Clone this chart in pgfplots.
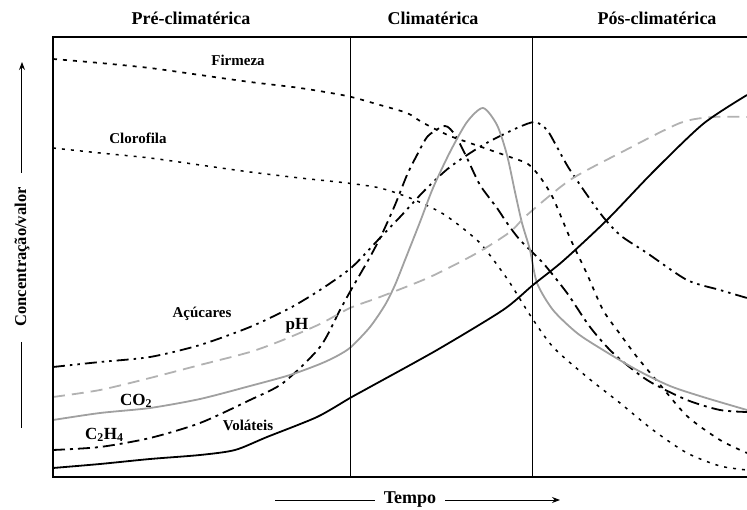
\documentclass[border=0pt]{standalone}
\usepackage{pgfplots}
\pgfplotsset{compat=1.18}
\usepackage{fontspec}
\setmainfont{Liberation Serif}
\usetikzlibrary{arrows.meta}

\definecolor{co2gray}{RGB}{160,160,160}
\definecolor{phgray}{RGB}{178,178,178}

\begin{document}
\begin{tikzpicture}
\begin{axis}[
  x=1pt, y=1pt,
  xmin=53, xmax=747, ymin=32, ymax=472,
  hide axis, clip=false,
  every axis plot/.append style={line width=1.8pt, smooth, tension=0.45, no marks},
]
% Firmeza
\addplot[black, line width=1.7pt, dash pattern=on 4pt off 6pt] coordinates {
(53,450) (100,446) (150,441) (200,434) (250,427) (300,421) (347,413) (380,404)
(407,396) (420,388) (433,381) (450,373) (467,367) (490,359) (510,352) (528,345)
(540,332) (553,311) (570,271) (587,235) (603,199) (620,175) (637,152) (657,128)
(687,93) (720,69) (747,56)
};
% Clorofila
\addplot[black, line width=1.5pt, dash pattern=on 3pt off 6pt] coordinates {
(53,361) (100,356) (150,351) (200,344) (250,337) (300,331) (347,326) (380,321)
(410,311) (440,297) (460,283) (480,266) (495,247) (510,226) (530,194) (553,162)
(587,132) (620,106) (653,79) (687,56) (720,43) (747,39)
};
% Acucares
\addplot[black, dash pattern=on 12pt off 5pt on 2.5pt off 5pt on 2.5pt off 5pt] coordinates {
(53,142) (100,147) (150,152) (200,164) (250,182) (290,201) (320,219) (351,241)
(378,269) (400,292) (425,319) (450,342) (483,364) (517,381) (535,387) (547,379)
(557,362) (570,339) (600,296) (620,274) (647,256) (687,229) (720,219) (747,211)
};
% C2H4
\addplot[black, dash pattern=on 12pt off 5pt on 3pt off 5pt] coordinates {
(53,59) (100,62) (150,71) (200,86) (250,109) (283,126) (320,162) (340,199)
(351,219) (370,252) (382,275) (395,304) (407,334) (417,354) (428,373) (445,383)
(455,374) (467,351) (480,324) (497,301) (507,286) (520,269) (543,246) (567,216)
(590,182) (613,156) (647,129) (687,109) (720,99) (747,97)
};
% CO2
\addplot[co2gray] coordinates {
(53,89) (100,96) (150,101) (200,110) (250,123) (290,134) (320,145) (337,153)
(351,162) (370,182) (385,204) (395,224) (405,249) (420,287) (433,321) (450,357)
(467,387) (483,401) (497,384) (507,354) (515,317) (522,286) (530,259) (537,226)
(553,199) (577,176) (603,159) (637,139) (670,123) (703,112) (747,99)
};
% pH
\addplot[phgray, dash pattern=on 12pt off 7pt] coordinates {
(53,112) (100,119) (150,131) (200,144) (250,157) (283,169) (320,185) (350,201)
(380,212) (430,232) (477,256) (510,277) (527,294) (570,329) (620,356) (680,386)
(713,392) (747,392)
};
% Volateis
\addplot[black] coordinates {
(53,41) (100,45) (150,50) (200,54) (235,59) (267,72) (317,92) (350,111)
(370,122) (437,159) (503,199) (533,224) (563,248) (607,289) (653,337) (703,385)
(747,414)
};

% frame and phase separators
\draw[line width=2.8pt] (axis cs:747,472) -- (axis cs:53,472) -- (axis cs:53,32) -- (axis cs:747,32);
\draw[line width=1pt] (axis cs:350,32) -- (axis cs:350,472);
\draw[line width=1pt] (axis cs:532,32) -- (axis cs:532,472);

% phase titles
\node[anchor=base, font=\fontsize{18}{20}\selectfont\bfseries] at (axis cs:191,484) {Pré-climatérica};
\node[anchor=base, font=\fontsize{18}{20}\selectfont\bfseries] at (axis cs:433,484) {Climatérica};
\node[anchor=base, font=\fontsize{18}{20}\selectfont\bfseries] at (axis cs:657,484) {Pós-climatérica};

% curve labels
\node[anchor=base, font=\fontsize{15}{17}\selectfont\bfseries] at (axis cs:238,443) {Firmeza};
\node[anchor=base, font=\fontsize{15}{17}\selectfont\bfseries] at (axis cs:138,365) {Clorofila};
\node[anchor=base, font=\fontsize{15}{17}\selectfont\bfseries] at (axis cs:202,191) {Açúcares};
\node[anchor=base, font=\fontsize{17}{19}\selectfont\bfseries] at (axis cs:297,179) {pH};
\node[anchor=base west, inner sep=0pt, font=\fontsize{17}{19}\selectfont\bfseries] at (axis cs:120,104) {CO\textsubscript{2}};
\node[anchor=base west, inner sep=0pt, font=\fontsize{17}{19}\selectfont\bfseries] at (axis cs:85,70) {C\textsubscript{2}H\textsubscript{4}};
\node[anchor=base, font=\fontsize{15}{17}\selectfont\bfseries] at (axis cs:248,79) {Voláteis};

% axis captions
\node[anchor=base, font=\fontsize{18}{20}\selectfont\bfseries] at (axis cs:410,6) {Tempo};
\draw[line width=1pt] (axis cs:275,9) -- (axis cs:375,9);
\draw[line width=1pt, -{Stealth[length=8pt, width=6pt]}] (axis cs:445,9) -- (axis cs:560,9);
\node[rotate=90, font=\fontsize{16.5}{18}\selectfont\bfseries] at (axis cs:22,252) {Concentração/valor};
\draw[line width=1pt, -{Stealth[length=8pt, width=6pt]}] (axis cs:22,336) -- (axis cs:22,447);
\draw[line width=1pt] (axis cs:22,167) -- (axis cs:22,81);

\coordinate (bl) at (axis cs:0,0);
\coordinate (tr) at (axis cs:747,509);
\end{axis}
\pgfresetboundingbox
\useasboundingbox (bl) rectangle (tr);
\end{tikzpicture}
\end{document}
